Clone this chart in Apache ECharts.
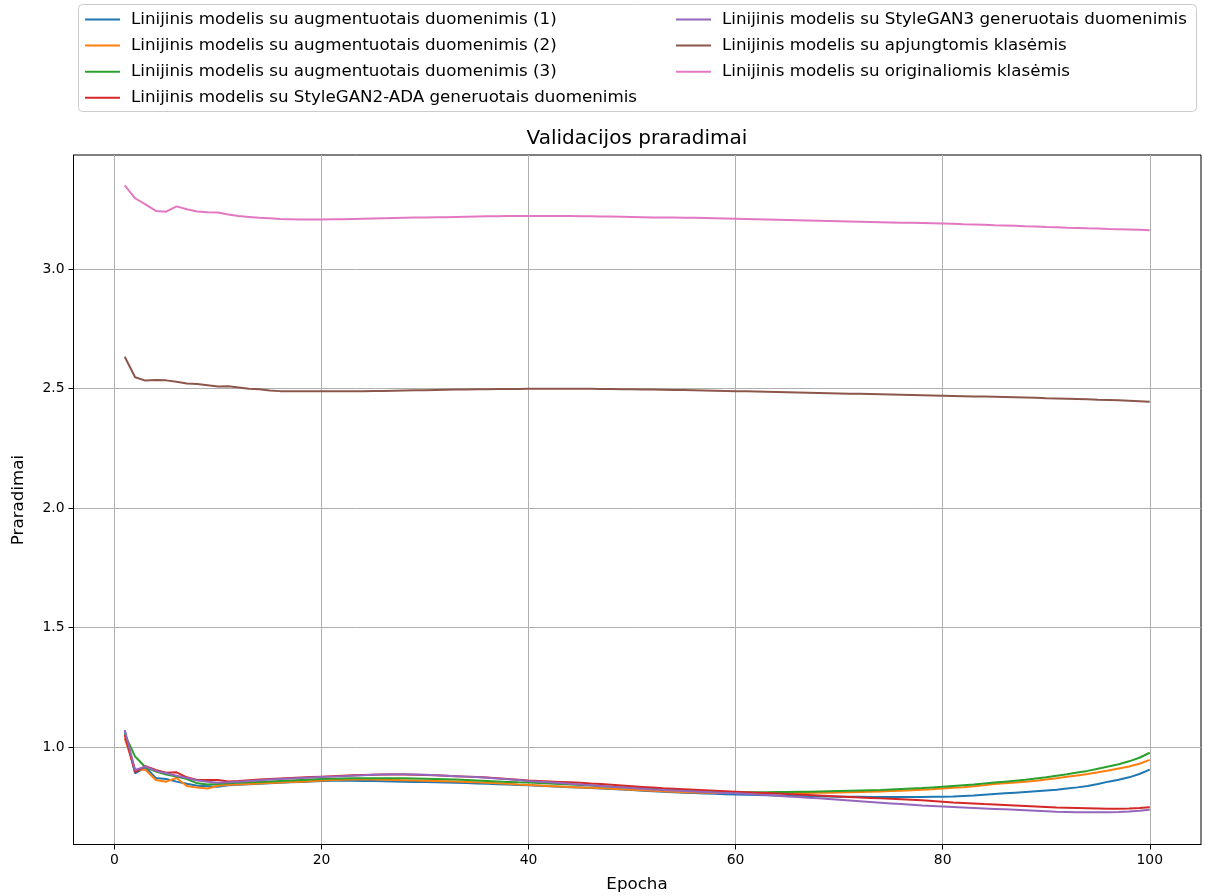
<!DOCTYPE html>
<html>
<head>
<meta charset="utf-8">
<title>Validacijos praradimai</title>
<script src="https://cdn.jsdelivr.net/npm/echarts@6/dist/echarts.min.js"></script>
<style>
  html, body { margin: 0; padding: 0; background: #ffffff; }
  #chart { width: 1205px; height: 896px; }
</style>
</head>
<body>
<div id="chart"></div>
<script>
// Epochs 1..100
const epochs = [];
for (let e = 1; e <= 100; e++) epochs.push(e);

const seriesNames = [
  'Linijinis modelis su augmentuotais duomenimis (1)',
  'Linijinis modelis su augmentuotais duomenimis (2)',
  'Linijinis modelis su augmentuotais duomenimis (3)',
  'Linijinis modelis su StyleGAN2-ADA generuotais duomenimis',
  'Linijinis modelis su StyleGAN3 generuotais duomenimis',
  'Linijinis modelis su apjungtomis klasėmis',
  'Linijinis modelis su originaliomis klasėmis'
];

// Validation losses per epoch
const lossAug1 = [
  1.065, 0.890, 0.915, 0.870, 0.866, 0.855, 0.846, 0.838, 0.836, 0.834,
  0.840, 0.842, 0.844, 0.846, 0.848, 0.850, 0.852, 0.854, 0.856, 0.858,
  0.859, 0.859, 0.859, 0.858, 0.858, 0.857, 0.856, 0.855, 0.854, 0.853,
  0.852, 0.851, 0.850, 0.849, 0.847, 0.846, 0.844, 0.843, 0.841, 0.840,
  0.838, 0.836, 0.834, 0.832, 0.830, 0.828, 0.826, 0.824, 0.822, 0.820,
  0.817, 0.815, 0.813, 0.811, 0.809, 0.807, 0.805, 0.804, 0.802, 0.801,
  0.800, 0.799, 0.798, 0.797, 0.796, 0.795, 0.794, 0.793, 0.793, 0.792,
  0.792, 0.792, 0.791, 0.791, 0.791, 0.791, 0.791, 0.791, 0.792, 0.792,
  0.793, 0.795, 0.797, 0.800, 0.803, 0.806, 0.809, 0.812, 0.815, 0.818,
  0.821, 0.826, 0.831, 0.837, 0.845, 0.855, 0.863, 0.873, 0.887, 0.905
];

const lossAug2 = [
  1.036, 0.905, 0.905, 0.862, 0.855, 0.870, 0.837, 0.830, 0.826, 0.838,
  0.842, 0.843, 0.845, 0.847, 0.849, 0.851, 0.853, 0.855, 0.857, 0.860,
  0.862, 0.863, 0.864, 0.864, 0.864, 0.863, 0.862, 0.861, 0.860, 0.859,
  0.858, 0.857, 0.856, 0.854, 0.852, 0.850, 0.848, 0.846, 0.843, 0.841,
  0.839, 0.837, 0.835, 0.833, 0.831, 0.829, 0.827, 0.825, 0.823, 0.821,
  0.819, 0.817, 0.815, 0.813, 0.811, 0.810, 0.809, 0.808, 0.808, 0.808,
  0.808, 0.808, 0.808, 0.808, 0.808, 0.808, 0.808, 0.809, 0.809, 0.810,
  0.811, 0.812, 0.813, 0.814, 0.816, 0.817, 0.819, 0.821, 0.823, 0.826,
  0.829, 0.832, 0.836, 0.840, 0.845, 0.848, 0.851, 0.855, 0.859, 0.864,
  0.869, 0.875, 0.881, 0.887, 0.894, 0.902, 0.910, 0.918, 0.930, 0.946
];

const lossAug3 = [
  1.054, 0.960, 0.915, 0.897, 0.885, 0.876, 0.866, 0.848, 0.843, 0.845,
  0.848, 0.850, 0.852, 0.854, 0.856, 0.858, 0.860, 0.862, 0.864, 0.866,
  0.867, 0.868, 0.869, 0.869, 0.869, 0.869, 0.869, 0.869, 0.868, 0.867,
  0.866, 0.865, 0.864, 0.862, 0.860, 0.858, 0.856, 0.854, 0.852, 0.851,
  0.849, 0.847, 0.845, 0.843, 0.841, 0.839, 0.836, 0.834, 0.832, 0.830,
  0.828, 0.826, 0.824, 0.822, 0.820, 0.818, 0.816, 0.814, 0.812, 0.811,
  0.811, 0.811, 0.811, 0.812, 0.812, 0.813, 0.813, 0.814, 0.815, 0.816,
  0.817, 0.818, 0.819, 0.820, 0.822, 0.824, 0.826, 0.828, 0.831, 0.834,
  0.837, 0.840, 0.843, 0.847, 0.851, 0.855, 0.859, 0.863, 0.868, 0.873,
  0.880, 0.886, 0.893, 0.900, 0.909, 0.918, 0.928, 0.940, 0.955, 0.976
];

const lossSG2 = [
  1.050, 0.895, 0.920, 0.904, 0.892, 0.894, 0.873, 0.862, 0.862, 0.862,
  0.856, 0.858, 0.861, 0.864, 0.866, 0.868, 0.870, 0.872, 0.874, 0.876,
  0.878, 0.880, 0.882, 0.883, 0.884, 0.885, 0.885, 0.885, 0.884, 0.883,
  0.882, 0.880, 0.878, 0.876, 0.874, 0.872, 0.869, 0.866, 0.863, 0.860,
  0.858, 0.856, 0.854, 0.852, 0.850, 0.847, 0.845, 0.842, 0.839, 0.836,
  0.833, 0.830, 0.827, 0.825, 0.823, 0.821, 0.819, 0.817, 0.815, 0.813,
  0.811, 0.809, 0.807, 0.805, 0.803, 0.801, 0.799, 0.797, 0.795, 0.793,
  0.791, 0.789, 0.787, 0.785, 0.783, 0.781, 0.779, 0.777, 0.774, 0.771,
  0.768, 0.766, 0.764, 0.761, 0.759, 0.757, 0.755, 0.753, 0.751, 0.749,
  0.747, 0.746, 0.745, 0.744, 0.743, 0.742, 0.742, 0.743, 0.745, 0.748
];

const lossSG3 = [
  1.071, 0.904, 0.918, 0.900, 0.890, 0.880, 0.870, 0.860, 0.855, 0.850,
  0.852, 0.855, 0.858, 0.861, 0.864, 0.866, 0.868, 0.870, 0.872, 0.874,
  0.876, 0.878, 0.880, 0.882, 0.884, 0.885, 0.886, 0.886, 0.885, 0.884,
  0.882, 0.880, 0.878, 0.876, 0.874, 0.871, 0.868, 0.865, 0.862, 0.858,
  0.855, 0.852, 0.849, 0.846, 0.843, 0.840, 0.837, 0.834, 0.831, 0.828,
  0.825, 0.822, 0.820, 0.818, 0.816, 0.814, 0.812, 0.810, 0.808, 0.806,
  0.804, 0.801, 0.799, 0.796, 0.793, 0.791, 0.788, 0.785, 0.782, 0.779,
  0.776, 0.773, 0.770, 0.767, 0.764, 0.761, 0.758, 0.755, 0.753, 0.751,
  0.749, 0.747, 0.745, 0.743, 0.741, 0.739, 0.737, 0.735, 0.733, 0.731,
  0.729, 0.728, 0.727, 0.727, 0.727, 0.727, 0.728, 0.730, 0.733, 0.737
];

const lossMerged = [
  2.633, 2.547, 2.533, 2.536, 2.534, 2.528, 2.521, 2.519, 2.514, 2.508,
  2.509, 2.504, 2.499, 2.497, 2.492, 2.489, 2.488, 2.488, 2.488, 2.488,
  2.488, 2.488, 2.488, 2.489, 2.490, 2.490, 2.491, 2.492, 2.493, 2.493,
  2.494, 2.495, 2.496, 2.496, 2.497, 2.497, 2.498, 2.498, 2.498, 2.499,
  2.499, 2.499, 2.499, 2.499, 2.499, 2.499, 2.498, 2.498, 2.497, 2.497,
  2.496, 2.496, 2.495, 2.494, 2.494, 2.493, 2.492, 2.491, 2.490, 2.489,
  2.488, 2.487, 2.486, 2.485, 2.484, 2.483, 2.482, 2.481, 2.480, 2.479,
  2.478, 2.478, 2.477, 2.476, 2.475, 2.474, 2.473, 2.472, 2.471, 2.470,
  2.469, 2.468, 2.467, 2.466, 2.465, 2.464, 2.463, 2.462, 2.461, 2.459,
  2.458, 2.457, 2.456, 2.455, 2.453, 2.452, 2.451, 2.449, 2.447, 2.445
];

const lossOriginal = [
  3.350, 3.296, 3.270, 3.243, 3.240, 3.262, 3.250, 3.241, 3.237, 3.236,
  3.228, 3.222, 3.218, 3.214, 3.212, 3.209, 3.208, 3.207, 3.207, 3.207,
  3.208, 3.208, 3.209, 3.210, 3.211, 3.212, 3.213, 3.214, 3.215, 3.216,
  3.217, 3.217, 3.218, 3.219, 3.220, 3.221, 3.221, 3.222, 3.222, 3.222,
  3.222, 3.222, 3.222, 3.222, 3.221, 3.221, 3.220, 3.220, 3.219, 3.218,
  3.217, 3.216, 3.216, 3.215, 3.214, 3.214, 3.213, 3.212, 3.211, 3.210,
  3.209, 3.208, 3.207, 3.206, 3.205, 3.204, 3.203, 3.202, 3.201, 3.200,
  3.199, 3.198, 3.197, 3.196, 3.195, 3.194, 3.193, 3.192, 3.191, 3.190,
  3.189, 3.187, 3.186, 3.185, 3.183, 3.182, 3.181, 3.179, 3.178, 3.176,
  3.175, 3.173, 3.172, 3.170, 3.169, 3.167, 3.166, 3.165, 3.164, 3.162
];

const xTicks = [0, 20, 40, 60, 80, 100];
const yTicks = [1.0, 1.5, 2.0, 2.5, 3.0];

const colors = ['#1f77b4', '#ff7f0e', '#2ca02c', '#d62728', '#9467bd', '#8c564b', '#e377c2'];
const allLosses = [lossAug1, lossAug2, lossAug3, lossSG2, lossSG3, lossMerged, lossOriginal];

const FONT = 'DejaVu Sans';
const TICK_FS = 13.9;
const LABEL_FS = 16.7;
const TITLE_FS = 20;

const chart = echarts.init(document.getElementById('chart'), null, { renderer: 'canvas' });

const series = seriesNames.map((name, i) => ({
  name: name,
  type: 'line',
  data: epochs.map((e, k) => [e, allLosses[i][k]]),
  symbol: 'none',
  showSymbol: false,
  smooth: false,
  lineStyle: { width: 2, color: colors[i] },
  itemStyle: { color: colors[i] },
  emphasis: { disabled: true },
  animation: false,
  z: 3
}));

const legendCommon = {
  orient: 'vertical',
  icon: 'rect',
  itemWidth: 35,
  itemHeight: 2,
  itemGap: 9.1,
  padding: 0,
  selectedMode: false,
  textStyle: {
    fontFamily: FONT,
    fontSize: LABEL_FS,
    color: '#000',
    lineHeight: 16,
    padding: [0, 0, 0, 6]
  }
};

const option = {
  backgroundColor: '#ffffff',
  animation: false,
  color: colors,
  grid: {
    left: 73.5,
    right: 4,
    top: 155,
    bottom: 51.5,
    show: true,
    borderColor: '#000',
    borderWidth: 1,
    containLabel: false
  },
  legend: [
    Object.assign({}, legendCommon, {
      left: 85,
      top: 11,
      data: seriesNames.slice(0, 4)
    }),
    Object.assign({}, legendCommon, {
      left: 676,
      top: 11,
      data: seriesNames.slice(4)
    })
  ],
  graphic: [
    {
      type: 'rect',
      shape: { x: 78.5, y: 4.5, width: 1118, height: 107, r: 4 },
      style: { fill: 'rgba(255,255,255,0.8)', stroke: '#cccccc', lineWidth: 1 },
      z: -1,
      silent: true
    },
    {
      type: 'text',
      x: 637,
      y: 139,
      style: {
        text: 'Validacijos praradimai',
        font: TITLE_FS + 'px "DejaVu Sans"',
        fill: '#000',
        textAlign: 'center',
        textVerticalAlign: 'middle'
      },
      silent: true
    },
    {
      type: 'text',
      x: 637,
      y: 885,
      style: {
        text: 'Epocha',
        font: LABEL_FS + 'px "DejaVu Sans"',
        fill: '#000',
        textAlign: 'center',
        textVerticalAlign: 'middle'
      },
      silent: true
    },
    {
      type: 'text',
      x: 19,
      y: 500,
      rotation: Math.PI / 2,
      style: {
        text: 'Praradimai',
        font: LABEL_FS + 'px "DejaVu Sans"',
        fill: '#000',
        textAlign: 'center',
        textVerticalAlign: 'middle'
      },
      silent: true
    }
  ],
  xAxis: {
    type: 'value',
    min: -3.95,
    max: 104.95,
    splitNumber: 5,
    axisLine: { show: true, onZero: false, lineStyle: { color: '#000', width: 1 } },
    axisTick: {
      show: true,
      customValues: xTicks,
      length: 5,
      inside: false,
      lineStyle: { color: '#000', width: 1 }
    },
    axisLabel: {
      customValues: xTicks,
      margin: 9,
      fontFamily: FONT,
      fontSize: TICK_FS,
      color: '#000',
      formatter: v => String(Math.round(v))
    },
    splitLine: { show: true, lineStyle: { color: '#b0b0b0', width: 1 } }
  },
  yAxis: {
    type: 'value',
    min: 0.592,
    max: 3.477,
    splitNumber: 5,
    axisLine: { show: true, onZero: false, lineStyle: { color: '#000', width: 1 } },
    axisTick: {
      show: true,
      customValues: yTicks,
      length: 5,
      inside: false,
      lineStyle: { color: '#000', width: 1 }
    },
    axisLabel: {
      customValues: yTicks,
      margin: 9,
      fontFamily: FONT,
      fontSize: TICK_FS,
      color: '#000',
      formatter: v => v.toFixed(1)
    },
    splitLine: { show: true, lineStyle: { color: '#b0b0b0', width: 1 } }
  },
  tooltip: { show: false },
  series: series
};

chart.setOption(option);
</script>
</body>
</html>
